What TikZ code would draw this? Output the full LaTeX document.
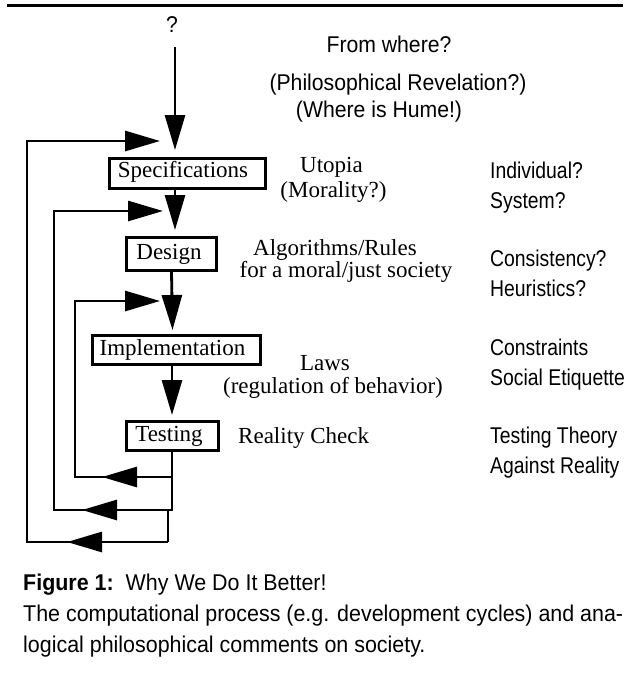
\documentclass[tikz,border=0pt]{standalone}
\usepackage{fontspec}
\setmainfont{Liberation Serif}
\newfontfamily\hvtop{Liberation Sans}[FakeStretch=0.93]
\newfontfamily\hvcol{Liberation Sans}[FakeStretch=0.85]
\newfontfamily\hvcap{Liberation Sans}[FakeStretch=0.94]
\usetikzlibrary{arrows.meta}
\tikzset{
  box/.style={draw, line width=2.8pt, inner sep=0pt, text height=16pt, text depth=5pt, font=\fontsize{23}{27}\selectfont},
  serif/.style={inner sep=0pt, anchor=base, font=\fontsize{23}{27}\selectfont},
  toptext/.style={inner sep=0pt, anchor=base, font=\hvtop\fontsize{22.8}{26}\selectfont},
  coltext/.style={inner sep=0pt, anchor=base west, font=\hvcol\fontsize{22.8}{26}\selectfont},
  captext/.style={inner sep=0pt, anchor=base west, font=\hvcap\fontsize{22.8}{26}\selectfont},
  link/.style={line width=2.8pt},
  arr/.style={link, -{Triangle[length=35pt,width=20pt]}},
}
\begin{document}
\begin{tikzpicture}[x=1pt,y=-1pt]
\useasboundingbox (0,0) rectangle (632,683);
% top rule
\draw[line width=3pt] (7,5.5) -- (623,5.5);
% top texts
\node[toptext] (q) at (172,32) {?};
\node[toptext] (from) at (389,52) {From where?};
\node[toptext] (phil) at (398,90) {(Philosophical Revelation?)};
\node[toptext] (hume) at (379,117) {(Where is Hume!)};
% boxes
\node[box, minimum width=156pt, minimum height=30pt] (spec) at (187.5,173.5) {\hspace*{-9pt}\raisebox{2pt}{Specifications}};
\node[box, minimum width=90pt, minimum height=33pt] (design) at (171.5,254) {\hspace*{-5pt}Design};
\node[box, minimum width=168pt, minimum height=29pt] (impl) at (176.5,350) {\hspace*{-8pt}Implementation};
\node[box, minimum width=92pt, minimum height=29pt] (test) at (172.5,436) {\hspace*{-7pt}Testing};
% middle comments
\node[serif] (utopia) at (331.5,172) {Utopia};
\node[serif] (moral) at (333.5,197) {(Morality?)};
\node[serif] (algo) at (335,255) {Algorithms/Rules};
\node[serif] (just) at (346,277) {for a moral/just society};
\node[serif] (laws) at (325,370) {Laws};
\node[serif] (reg) at (333,393) {(regulation of behavior)};
\node[serif, anchor=base west] (real) at (238,443) {Reality Check};
% right column
\node[coltext] (r1) at (490,178) {Individual?};
\node[coltext] (r2) at (490,208) {System?};
\node[coltext] (r3) at (490,266) {Consistency?};
\node[coltext] (r4) at (490,296) {Heuristics?};
\node[coltext] (r5) at (490,355) {Constraints};
\node[coltext] (r6) at (490,385) {Social Etiquette};
\node[coltext] (r7) at (490,443) {Testing Theory};
\node[coltext] (r8) at (490,473) {Against Reality};
% caption
\node[captext] (cap1) at (23,590) {\textbf{Figure 1:}\hspace{12pt}Why We Do It Better!};
\node[captext] (cap2) at (23,621) {\makebox[600pt][s]{The computational process (e.g. development cycles) and ana-}};
\node[captext] (cap3) at (23,652) {logical philosophical comments on society.};
% coordinates
\coordinate (q0) at (175,47);
\coordinate (j1) at (175,150);
\coordinate (j2) at (175,230);
\coordinate (j3) at (172.5,330);
\coordinate (j4) at (172,415);
\coordinate (e1) at (160,141);
\coordinate (e2) at (163,211);
\coordinate (e3) at (160,301);
\coordinate (t1) at (172,477);
\coordinate (t2) at (172,510);
\coordinate (t3) at (168,542);
\coordinate (m1) at (102,477);
\coordinate (m2) at (82,510);
\coordinate (m3) at (67,542);
\coordinate (c1) at (75,301);
\coordinate (c2) at (54,211);
\coordinate (c3) at (27,141);
% forward arrows
\draw[arr] (q0) -- (j1);
\draw[arr] (spec.south -| j2) -- (j2);
\draw[arr] (design.south) -- (j3);
\draw[arr] (impl.south -| j4) -- (j4);
% feedback
\draw[link] (test.south -| t1) -- (t2) -- (t2 -| t3) -- (t3);
\draw[arr] (t1) -| (c1) -- (e3);
\draw[arr] (t1) -- (m1);
\draw[arr] (t2) -| (c2) -- (e2);
\draw[arr] (t2) -- (m2);
\draw[arr] (t3) -| (c3) -- (e1);
\draw[arr] (t3) -- (m3);
\end{tikzpicture}
\end{document}
